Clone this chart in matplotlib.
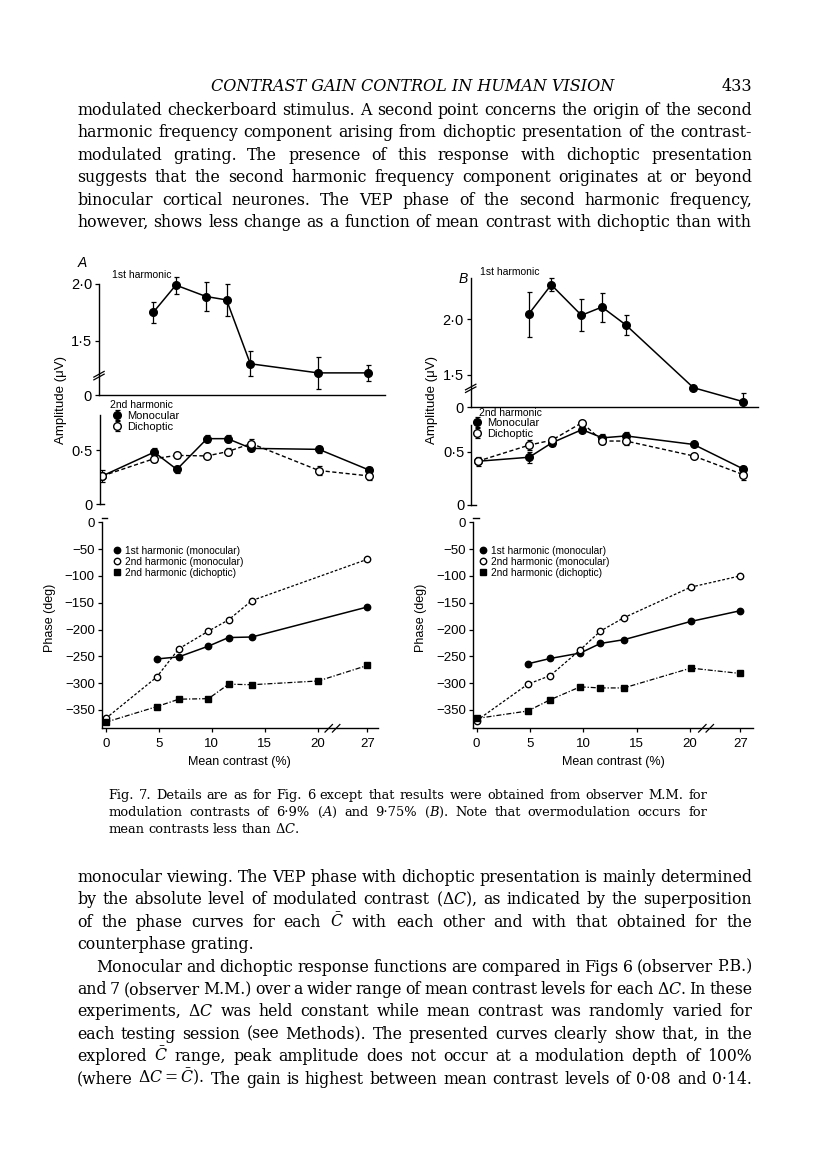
import re
import numpy as np
import matplotlib
matplotlib.use('Agg')
import matplotlib.pyplot as plt

# Fontes: graficos em sans, texto da pagina em serif
plt.rcParams['font.family'] = ['Liberation Sans', 'DejaVu Sans']
plt.rcParams['mathtext.fontset'] = 'dejavuserif'
plt.rcParams['axes.unicode_minus'] = True

# ---------------- Dados ----------------
contraste = [0, 4.8, 6.9, 9.7, 11.6, 13.8, 20.1, 27]   # contraste medio (%)

# Painel A - amplitude 1o harmonico (sem o ponto 0)
ampA_1h = [1.75, 1.99, 1.89, 1.86, 1.30, 1.22, 1.22]
errA_1h = [0.095, 0.075, 0.13, 0.14, 0.11, 0.14, 0.07]
# Painel A - amplitude 2o harmonico
ampA_mono = [0.26, 0.48, 0.32, 0.605, 0.605, 0.515, 0.506, 0.315]
errA_mono = [0.055, 0.035, 0.03, 0.03, 0.03, 0.025, 0.035, 0.03]
ampA_dic = [0.26, 0.42, 0.45, 0.445, 0.485, 0.56, 0.31, 0.26]
errA_dic = [0.0, 0.03, 0.025, 0.02, 0.035, 0.04, 0.04, 0.04]
# Painel A - fase (graus)
faseA_1mono = [np.nan, -255, -251, -231, -215, -214, np.nan, -158]
faseA_2mono = [-366, -289, -236, -203, -182, -146, np.nan, -69]
faseA_2dic = [-373, -344, -330, -329, -302, -303, -296, -267]

# Painel B - amplitude 1o harmonico
ampB_1h = [2.045, 2.31, 2.036, 2.11, 1.95, 1.386, 1.26]
errB_1h = [0.2, 0.06, 0.145, 0.13, 0.09, 0.0, 0.08]
# Painel B - amplitude 2o harmonico
ampB_mono = [0.41, 0.448, 0.583, 0.707, 0.63, 0.648, 0.568, 0.337]
errB_mono = [0.04, 0.05, 0.03, 0.02, 0.04, 0.035, 0.015, 0.03]
ampB_dic = [0.41, 0.562, 0.608, 0.772, 0.60, 0.60, 0.46, 0.284]
errB_dic = [0.0, 0.05, 0.03, 0.02, 0.03, 0.04, 0.01, 0.045]
# Painel B - fase (graus)
faseB_1mono = [np.nan, -264, -254, -244, -226, -219, -185, -165]
faseB_2mono = [-370, -302, -286, -238, -203, -178, -121, -100]
faseB_2dic = [-366, -352, -331, -307, -309, -309, -272, -282]

# Rotulos do eixo x da fase
ticks_x = [0, 5, 10, 15, 20, 27]
ticks_x_txt = ['0', '5', '10', '15', '20', '27']

# ---------------- Texto da pagina ----------------
cabecalho = 'CONTRAST GAIN CONTROL IN HUMAN VISION'
pagina = '433'
texto_topo = [
    'modulated checkerboard stimulus. A second point concerns the origin of the second',
    'harmonic frequency component arising from dichoptic presentation of the contrast-',
    'modulated grating. The presence of this response with dichoptic presentation',
    'suggests that the second harmonic frequency component originates at or beyond',
    'binocular cortical neurones. The VEP phase of the second harmonic frequency,',
    'however, shows less change as a function of mean contrast with dichoptic than with',
]
legenda_fig = [
    'Fig. 7. Details are as for Fig. 6 except that results were obtained from observer M.M. for',
    'modulation contrasts of 6·9% ($A$) and 9·75% ($B$). Note that overmodulation occurs for',
    r'mean contrasts less than $\Delta C$.',
]
texto_baixo = [
    'monocular viewing. The VEP phase with dichoptic presentation is mainly determined',
    r'by the absolute level of modulated contrast ($\Delta C$), as indicated by the superposition',
    r'of the phase curves for each $\bar{C}$ with each other and with that obtained for the',
    'counterphase grating.',
    'Monocular and dichoptic response functions are compared in Figs 6 (observer P.B.)',
    r'and 7 (observer M.M.) over a wider range of mean contrast levels for each $\Delta C$. In these',
    r'experiments, $\Delta C$ was held constant while mean contrast was randomly varied for',
    'each testing session (see Methods). The presented curves clearly show that, in the',
    r'explored $\bar{C}$ range, peak amplitude does not occur at a modulation depth of 100%',
    r'(where $\Delta C=\bar{C}$). The gain is highest between mean contrast levels of 0·08 and 0·14.',
]

W, H = 816, 1173
fig = plt.figure(figsize=(W / 100, H / 100), dpi=100)
fig.patch.set_facecolor('white')
renderer = fig.canvas.get_renderer()


def fx(px):
    return px / W


def fy(py):
    return 1 - py / H


def eixo(x0, y0, x1, y1):
    # cria um eixo a partir de coordenadas em pixels (origem no topo)
    return fig.add_axes([fx(x0), fy(y1), (x1 - x0) / W, (y1 - y0) / H])


def pos(xs):
    # eixo x quebrado entre 20 e 27
    xs = np.asarray(xs, dtype=float)
    return np.where(xs <= 20, xs, 20 + (xs - 20) * 4.7 / 7)


def Limpa(ax):
    for s in ['top', 'right']:
        ax.spines[s].set_visible(False)
    for s in ax.spines.values():
        s.set_linewidth(1.0)
    ax.patch.set_visible(False)


def Quebra_y(ax, yv):
    # marca // no eixo y
    t = ax.get_yaxis_transform()
    for d in [-0.012, 0.012]:
        ax.plot([-0.018, 0.018], [yv + d - 0.025, yv + d + 0.025], color='k', lw=0.9,
                transform=t, clip_on=False)


def Quebra_x(ax, xv):
    # marca // no eixo x
    t = ax.get_xaxis_transform()
    for d in [-0.35, 0.35]:
        ax.plot([xv + d - 0.35, xv + d + 0.35], [-0.018, 0.018], color='k', lw=0.9,
                transform=t, clip_on=False)


def Amplitude_topo(ax, y, e, xlim, ylim, topo, letra, letra_xy, rot_xy):
    xs = pos(contraste[1:])
    ax.errorbar(xs, y, yerr=e, fmt='o-', color='k', ms=5.5, lw=1.1,
                elinewidth=0.9, capsize=1.8, capthick=0.9)
    ax.set_xlim(xlim)
    ax.set_ylim(ylim[0], ylim[1])
    Limpa(ax)
    ax.spines['left'].set_bounds(ylim[0], topo)
    ax.set_xticks([])
    ax.set_yticks([ylim[0], 1.5, 2.0])
    ax.set_yticklabels(['0', '1·5', '2·0'])
    ax.tick_params(axis='y', length=3, width=0.9, pad=2, labelsize=10.5)
    Quebra_y(ax, ylim[0] + 0.17)
    fig.text(fx(letra_xy[0]), fy(letra_xy[1]), letra, style='italic', fontsize=10,
             ha='center', va='center')
    fig.text(fx(rot_xy[0]), fy(rot_xy[1]), '1st harmonic', fontsize=7.5,
             ha='center', va='center')


def Amplitude_baixo(ax, mono, emono, dic, edic, xlim, ytopo, topo, tit_xy, leg_xy):
    xs = pos(contraste)
    hm = ax.errorbar(xs, mono, yerr=emono, fmt='o-', color='k', ms=5.5, lw=1.1,
                     elinewidth=0.9, capsize=1.8, capthick=0.9, label='Monocular')
    hd = ax.errorbar(xs, dic, yerr=edic, fmt='o', ls=(0, (3, 1.8)), color='k', mfc='white',
                     ms=5.5, lw=1.0, elinewidth=0.9, capsize=1.8, capthick=0.9,
                     label='Dichoptic')
    ax.set_xlim(xlim)
    ax.set_ylim(0, ytopo)
    Limpa(ax)
    ax.spines['left'].set_bounds(0, topo)
    ax.spines['bottom'].set_bounds(xlim[0], xlim[0] + 0.4)
    ax.set_xticks([])
    ax.set_yticks([0, 0.5])
    ax.set_yticklabels(['0', '0·5'])
    ax.tick_params(axis='y', length=3, width=0.9, pad=2, labelsize=10.5)
    fig.text(fx(tit_xy[0]), fy(tit_xy[1]), '2nd harmonic', fontsize=7.5,
             ha='left', va='center')
    ax.legend(handles=[hm, hd], loc='upper left',
              bbox_to_anchor=(fx(leg_xy[0]), fy(leg_xy[1])),
              bbox_transform=fig.transFigure, frameon=False, handlelength=0,
              handletextpad=0.9, fontsize=8, borderpad=0,
              borderaxespad=0, labelspacing=0.05)


def Fase(ax, f1, f2, f3, xlim, xq, leg_xy):
    xs = pos(contraste)
    for y, st in [(f1, dict(fmt='o', ls='-', mfc='k', ms=4.6, lw=1.1,
                            label='1st harmonic (monocular)')),
                  (f2, dict(fmt='o', ls=(0, (2.2, 1.5)), mfc='white', ms=4.6, lw=0.9,
                            label='2nd harmonic (monocular)')),
                  (f3, dict(fmt='s', ls=(0, (4, 1.5, 1, 1.5)), mfc='k', ms=3.8, lw=0.9,
                            label='2nd harmonic (dichoptic)'))]:
        y = np.asarray(y, dtype=float)
        m = ~np.isnan(y)
        ax.errorbar(xs[m], y[m], color='k', mec='k', **st)
    ax.set_xlim(xlim)
    ax.set_ylim(-384.3, 8)
    Limpa(ax)
    ax.spines['left'].set_bounds(-384.3, 0)
    ax.spines['top'].set_visible(True)
    ax.spines['top'].set_bounds(xlim[0], xlim[0] + 0.5)
    ax.set_yticks([0, -50, -100, -150, -200, -250, -300, -350])
    ax.set_xticks(pos(ticks_x))
    ax.set_xticklabels(ticks_x_txt)
    ax.tick_params(axis='y', length=3, width=0.9, pad=2, labelsize=9.5)
    ax.tick_params(axis='x', length=3, width=0.9, pad=4, labelsize=9.5)
    ax.set_xlabel('Mean contrast (%)', fontsize=9, labelpad=4)
    Quebra_x(ax, xq)
    ax.legend(loc='upper left', bbox_to_anchor=(fx(leg_xy[0]), fy(leg_xy[1])),
              bbox_transform=fig.transFigure, frameon=False, handlelength=0,
              handletextpad=0.8, fontsize=7.3, borderpad=0, borderaxespad=0,
              labelspacing=0.08)


# ---------------- Painel A ----------------
axA1 = eixo(99, 270, 385, 395)
Amplitude_topo(axA1, ampA_1h, errA_1h, (-0.22, 26.28), (1.026, 1.026 + 125 / 114), 2.0,
               'A', (82, 263), (142, 275))
axA2 = eixo(100, 400, 386, 504)
Amplitude_baixo(axA2, ampA_mono, errA_mono, ampA_dic, errA_dic, (-0.22, 26.28),
                104 / 108, 0.82, (110, 405), (117, 411))
axA3 = eixo(101.7, 518, 378, 728.3)
Fase(axA3, faseA_1mono, faseA_2mono, faseA_2dic, (-0.377, 25.7), 21.4, (117, 546))

# ---------------- Painel B ----------------
axB1 = eixo(470.7, 272, 758, 407.3)
Amplitude_topo(axB1, ampB_1h, errB_1h, (-0.56, 26.05), (1.21, 1.21 + 135.3 / 111.4), 2.37,
               'B', (463, 279), (510, 272))
axB2 = eixo(471.5, 405, 758, 505)
Amplitude_baixo(axB2, ampB_mono, errB_mono, ampB_dic, errB_dic, (-0.56, 26.05),
                100 / 106.6, 0.75, (479, 413), (477, 418))
axB3 = eixo(473.3, 518, 753, 728.3)
Fase(axB3, faseB_1mono, faseB_2mono, faseB_2dic, (-0.31, 25.9), 21.5, (483, 546))

# Rotulos dos eixos y
for x in [61, 432]:
    fig.text(fx(x), fy(400), 'Amplitude (μV)', rotation=90, fontsize=9.5,
             ha='center', va='center')
for x in [50, 421]:
    fig.text(fx(x), fy(618), 'Phase (deg)', rotation=90, fontsize=9,
             ha='center', va='center')


# ---------------- Texto da pagina ----------------
def Linha(txt, x0, x1, yb, tam, justificar=True):
    # separa palavras, mantendo trechos $...$ inteiros
    palavras = re.findall(r'(?:\$[^$]*\$|[^\s$])+', txt)
    objs = [fig.text(fx(x0), fy(yb), p, fontsize=tam, family='DejaVu Serif',
                     va='baseline') for p in palavras]
    larg = [o.get_window_extent(renderer).width for o in objs]
    if justificar and len(objs) > 1:
        gap = (x1 - x0 - sum(larg)) / (len(objs) - 1)
    else:
        gap = tam * 0.3 * 100 / 72
    x = x0
    for o, l in zip(objs, larg):
        o.set_x(fx(x))
        x += l + gap


fig.text(fx(413), fy(91), cabecalho, style='italic', family='DejaVu Serif',
         fontsize=11.5, ha='center', va='baseline')
fig.text(fx(752), fy(91), pagina, family='DejaVu Serif', fontsize=11.5,
         ha='right', va='baseline')

for i, t in enumerate(texto_topo):
    Linha(t, 77, 752, 115 + i * 22.4, 11.3)

for i, t in enumerate(legenda_fig):
    Linha(t, 108, 707, 799 + i * 17, 9.4, justificar=(i < 2))

for i, t in enumerate(texto_baixo):
    x0 = 96 if i == 4 else 77
    Linha(t, x0, 752, 882 + i * 22.4, 11.3, justificar=(i != 3))

fig.savefig('out.png', dpi=100, facecolor='white')
